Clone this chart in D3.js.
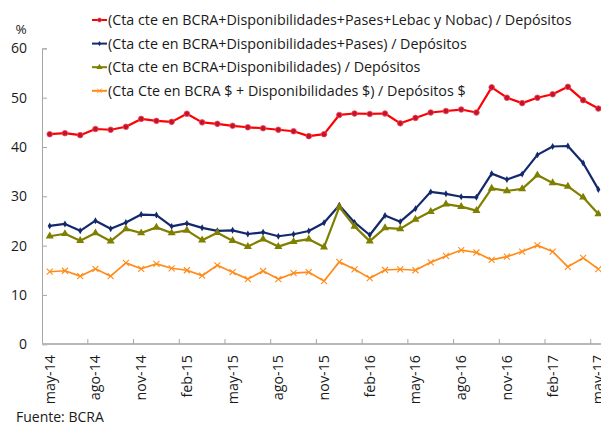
<!DOCTYPE html>
<html>
<head>
<meta charset="utf-8">
<script src="https://cdn.jsdelivr.net/npm/d3@7"></script>
<style>
  body { margin: 0; background: #fff; }
  svg { display: block; font-family: "Open Sans", Lato, sans-serif; }
</style>
</head>
<body>
<svg id="chart" width="601" height="425"></svg>
<script>
const months = [
  'may-14','jun-14','jul-14','ago-14','sep-14','oct-14','nov-14','dic-14',
  'ene-15','feb-15','mar-15','abr-15','may-15','jun-15','jul-15','ago-15',
  'sep-15','oct-15','nov-15','dic-15','ene-16','feb-16','mar-16','abr-16',
  'may-16','jun-16','jul-16','ago-16','sep-16','oct-16','nov-16','dic-16',
  'ene-17','feb-17','mar-17','abr-17','may-17'
];

const lebacNobac = [42.6, 42.8, 42.4, 43.65, 43.5, 44.1, 45.7, 45.3, 45.1, 46.75, 45.0, 44.7,
  44.3, 44.0, 43.8, 43.5, 43.2, 42.2, 42.6, 46.5, 46.8, 46.7, 46.8, 44.8,
  45.9, 47.0, 47.3, 47.6, 47.0, 52.1, 50.0, 48.9, 50.0, 50.7, 52.2, 49.5, 47.8];

const pases = [24.0, 24.4, 23.0, 25.05, 23.4, 24.7, 26.3, 26.2, 23.9, 24.5, 23.6, 23.0,
  23.1, 22.35, 22.7, 21.9, 22.3, 22.96, 24.65, 28.2, 24.7, 22.15, 26.1, 24.85,
  27.5, 30.9, 30.5, 29.9, 29.8, 34.6, 33.4, 34.5, 38.4, 40.1, 40.2, 36.75, 31.4];

const disponib = [21.9, 22.4, 21.0, 22.55, 20.9, 23.4, 22.55, 23.7, 22.55, 23.1, 21.1, 22.6,
  21.0, 19.8, 21.3, 19.8, 20.8, 21.3, 19.7, 27.8, 23.9, 20.9, 23.6, 23.4,
  25.3, 26.9, 28.4, 27.9, 27.1, 31.6, 31.1, 31.5, 34.3, 32.7, 32.0, 29.8, 26.4];

const pesos = [14.7, 14.9, 13.8, 15.3, 13.8, 16.5, 15.3, 16.3, 15.4, 15.0, 13.9, 16.0,
  14.6, 13.2, 14.85, 13.2, 14.4, 14.6, 12.8, 16.7, 15.2, 13.4, 15.05, 15.2,
  15.0, 16.6, 17.9, 19.1, 18.6, 17.1, 17.75, 18.8, 20.05, 18.8, 15.7, 17.5, 15.25];

const yTicks = [0, 10, 20, 30, 40, 50, 60];

const series = [
  { name: '(Cta cte en BCRA+Disponibilidades+Pases+Lebac y Nobac) / Depósitos', values: lebacNobac, color: '#ff0000', marker: 'circle' },
  { name: '(Cta cte en BCRA+Disponibilidades+Pases) / Depósitos', values: pases, color: '#14296b', marker: 'diamond' },
  { name: '(Cta cte en BCRA+Disponibilidades) / Depósitos', values: disponib, color: '#7f7f00', marker: 'triangle' },
  { name: '(Cta Cte en BCRA $ + Disponibilidades $) / Depósitos $', values: pesos, color: '#ff8c1a', marker: 'cross' }
];

const fontSize = 14.3;
const textColor = '#1a1a1a';

const svg = d3.select('#chart');

const x = d3.scaleBand().domain(months).range([42.1, 42.1 + months.length * 15.24]);
const y = d3.scaleLinear().domain([0, 60]).range([344.2, 48.4]);
const cx = (m) => x(m) + x.bandwidth() / 2;

// y axis, ticks inside
const yAxis = svg.append('g')
  .attr('transform', 'translate(42,0)')
  .call(d3.axisLeft(y).tickValues(yTicks).tickSize(-5).tickPadding(15));
yAxis.select('.domain').attr('stroke', '#a6a6a6');
yAxis.selectAll('.tick line').attr('stroke', '#a6a6a6');
yAxis.selectAll('.tick text').attr('font-size', 14).attr('fill', textColor).style('font-family', '"Open Sans", sans-serif');

svg.append('text').attr('x', 21).attr('y', 34)
  .attr('text-anchor', 'middle').attr('font-size', 13.5).attr('fill', textColor).text('%');

// x axis: labels every 3 months at the centre, tick marks on the boundaries
const xAxis = svg.append('g')
  .attr('transform', 'translate(0,344)')
  .call(d3.axisBottom(x).tickValues(months.filter((d, i) => i % 3 === 0)).tickSize(0));
xAxis.select('.domain').remove();
xAxis.selectAll('.tick text')
  .attr('transform', 'rotate(-90)')
  .attr('x', -11).attr('y', 0).attr('dy', '0.35em')
  .style('text-anchor', 'end')
  .style('font-family', '"Open Sans", sans-serif')
  .attr('font-size', fontSize).attr('fill', textColor);

svg.append('line')
  .attr('x1', 42).attr('x2', 610).attr('y1', 344).attr('y2', 344)
  .attr('stroke', '#b8b8b8').attr('stroke-width', 2);

svg.append('g').selectAll('line')
  .data(months.filter((d, i) => i > 0 && i % 3 === 0))
  .join('line')
  .attr('x1', (d) => x(d)).attr('x2', (d) => x(d))
  .attr('y1', 344).attr('y2', 339)
  .attr('stroke', '#a6a6a6');

// marker drawing
function drawMarker(g, type, color) {
  if (type === 'circle') {
    g.append('circle').attr('r', 2.8).attr('fill', '#c8102e').attr('stroke', '#e8505a').attr('stroke-width', 0.8);
  } else if (type === 'diamond') {
    g.append('path').attr('d', d3.symbol(d3.symbolDiamond, 14)()).attr('fill', color);
  } else if (type === 'triangle') {
    g.append('path').attr('d', d3.symbol(d3.symbolTriangle, 28)()).attr('fill', color);
  } else {
    g.append('path').attr('d', 'M-3,-3L3,3M-3,3L3,-3').attr('stroke', color).attr('stroke-width', 1.1).attr('fill', 'none');
  }
}

const line = d3.line().x((d, i) => cx(months[i])).y((d) => y(d));

series.forEach((s) => {
  svg.append('path')
    .datum(s.values)
    .attr('d', line)
    .attr('fill', 'none')
    .attr('stroke', s.color)
    .attr('stroke-width', s.marker === 'cross' ? 1.7 : 2.2)
    .attr('stroke-linejoin', 'round');

  svg.append('g').selectAll('g')
    .data(s.values)
    .join('g')
    .attr('transform', (d, i) => `translate(${cx(months[i])},${y(d)})`)
    .each(function () { drawMarker(d3.select(this), s.marker, s.color); });
});

// legend
const legend = svg.append('g').selectAll('g')
  .data(series)
  .join('g')
  .attr('transform', (d, i) => `translate(92,${20 + i * 23.6})`);

legend.append('line')
  .attr('x1', 0).attr('x2', 15)
  .attr('stroke', (d) => d.color).attr('stroke-width', 2);
legend.each(function (d) {
  const m = d3.select(this).append('g').attr('transform', 'translate(7.5,0) scale(0.75)');
  drawMarker(m, d.marker, d.color);
});
legend.append('text')
  .attr('x', 16).attr('dy', '0.35em')
  .attr('font-size', fontSize).attr('fill', textColor)
  .text((d) => d.name);

svg.append('text').attr('x', 16).attr('y', 422)
  .attr('font-size', 14).attr('fill', textColor).text('Fuente: BCRA');
</script>
</body>
</html>
